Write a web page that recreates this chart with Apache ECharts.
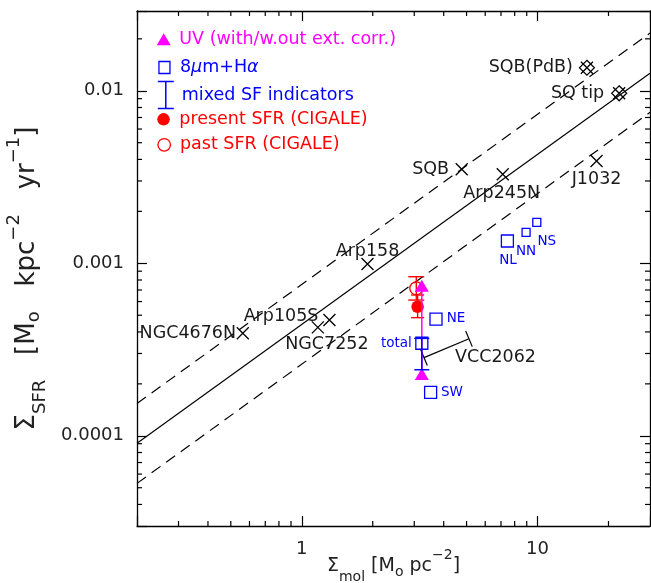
<!DOCTYPE html>
<html><head><meta charset="utf-8">
<script src="https://cdn.jsdelivr.net/npm/echarts@6/dist/echarts.min.js"></script>
<style>html,body{margin:0;padding:0;background:#fff}#c{width:651px;height:583px}</style>
</head><body><div id="c"></div>
<script>
// ---------------- data ----------------
const galaxyNames = ['SQB(PdB)', 'SQ tip', 'SQB', 'Arp245N', 'J1032', 'Arp158', 'NGC4676N', 'Arp105S', 'NGC7252'];
const galaxyMol   = [16.2, 22.2, 4.77, 7.12, 17.8, 1.90, 0.562, 1.31, 1.17];
const galaxySFR   = [0.0136, 0.00967, 0.00351, 0.00328, 0.00392, 0.00099, 0.000393, 0.000469, 0.000425];

const pdbMol = [16.2, 22.2];
const pdbSFR = [0.0136, 0.00967];

const irNames = ['NL', 'NN', 'NS', 'NE', 'total', 'SW'];
const irMol   = [7.45, 8.94, 9.93, 3.71, 3.23, 3.52];
const irSFR   = [0.001346, 0.001512, 0.001728, 0.000475, 0.000344, 0.0001786];

const uvMol = [3.23, 3.23];
const uvSFR = [0.000741, 0.000228];

const mixedMol  = [3.23];
const mixedLow  = [0.0002415];
const mixedHigh = [0.000367];

const presentMol  = [3.10];
const presentSFR  = [0.00056];
const presentLow  = [0.000484];
const presentHigh = [0.000655];

const pastMol  = [3.06];
const pastSFR  = [0.000716];
const pastLow  = [0.000612];
const pastHigh = [0.000836];

const relationMol = [0.2, 30];
const relationSFR = [9.06e-5, 0.01265];
const upperSFR    = [1.54e-4, 0.0216];
const lowerSFR    = [5.3e-5, 0.0075];

const bracketNames = ['VCC2062'];
const bracketFrom  = [[3.30, 0.000284]];
const bracketTo    = [[5.12, 0.000365]];

const xTickValues = [1, 10];
const xTickLabels = ['1', '10'];
const yTickValues = [0.0001, 0.001, 0.01];
const yTickLabels = ['0.0001', '0.001', '0.01'];
const xMinorTicks = [0.3, 0.4, 0.5, 0.6, 0.7, 0.8, 0.9, 2, 3, 4, 5, 6, 7, 8, 9, 20];
const yMinorTicks = [4e-5, 5e-5, 6e-5, 7e-5, 8e-5, 9e-5,
                     2e-4, 3e-4, 4e-4, 5e-4, 6e-4, 7e-4, 8e-4, 9e-4,
                     2e-3, 3e-3, 4e-3, 5e-3, 6e-3, 7e-3, 8e-3, 9e-3, 0.02];

const seriesNames = {
  uv: 'UV (with/w.out ext. corr.)',
  ir: '8μm+Hα',
  mixed: 'mixed SF indicators',
  present: 'present SFR (CIGALE)',
  past: 'past SFR (CIGALE)'
};

// ---------------- styling ----------------
const FONT = 'DejaVu Sans';
const X_MIN = 0.2, X_MAX = 30, Y_MIN = 3e-5, Y_MAX = 0.029;
const BLACK = '#000', BLUE = '#0000ff', RED = '#ff0000', MAG = '#ff00ff', TXT = '#1a1a1a';

const blackLabelPos = {
  'SQB(PdB)': ['right', -14, 0],
  'SQ tip':   ['right', -15, 0],
  'SQB':      ['right', -12.7, 0],
  'Arp245N':  ['center', -1, 19],
  'J1032':    ['center', 0, 19],
  'Arp158':   ['center', 0, -13],
  'NGC4676N': ['right', -6.7, 0],
  'Arp105S':  ['right', -11, -4],
  'NGC7252':  ['center', 9, 16.7]
};
const blueLabelPos = {
  'NE':    ['left', 10.7, -1],
  'total': ['right', -10, 0],
  'SW':    ['left', 10.3, 0],
  'NL':    ['center', 0.7, 19],
  'NN':    ['center', 0, 19.4],
  'NS':    ['center', 10, 19.4]
};
const smallSquares = ['NN', 'NS'];

function tickLabel(v, vals, labs) {
  for (let i = 0; i < vals.length; i++) if (Math.abs(v / vals[i] - 1) < 1e-6) return labs[i];
  return '';
}
function pairs(xs, ys) { return xs.map((x, i) => [x, ys[i]]); }

const tickStyle = () => ({ stroke: BLACK, lineWidth: 1.2 });

function axisCommon() {
  return {
    type: 'log', logBase: 10,
    axisLine: { show: true, onZero: false, lineStyle: { color: BLACK, width: 1.3 } },
    axisTick: { show: true, inside: true, length: 10, lineStyle: { color: BLACK, width: 1.2 } },
    splitLine: { show: false },
    minorTick: { show: false },
    nameMoveOverlap: false
  };
}

const chart = echarts.init(document.getElementById('c'), null, { renderer: 'canvas' });

const xName = '{m|Σ}{s|mol}{m| [M}{so|o}{m| pc}{p|−2}{m|]}';
const yName = '{m|Σ}{s|SFR}{m|   [M}{so|o}{m|   kpc}{p|−2}{m|   yr}{p|−1}{m|]}';

const option = {
  animation: false,
  backgroundColor: '#fff',
  grid: { left: 137, right: 1, top: 11, bottom: 57, outerBoundsMode: 'none', containLabel: false },
  xAxis: [
    Object.assign(axisCommon(), {
      position: 'bottom', min: X_MIN, max: X_MAX,
      axisLabel: { show: true, margin: 14, fontFamily: FONT, fontSize: 18, color: '#222',
        formatter: v => tickLabel(v, xTickValues, xTickLabels) },
      name: xName, nameLocation: 'middle', nameGap: 22,
      nameTextStyle: {
        fontFamily: FONT, fontSize: 19, color: '#222',
        rich: {
          m:  { fontFamily: FONT, fontSize: 19, lineHeight: 36, verticalAlign: 'middle', color: '#222' },
          s:  { fontFamily: FONT, fontSize: 14, verticalAlign: 'bottom', color: '#222' },
          so: { fontFamily: FONT, fontSize: 14, verticalAlign: 'bottom', padding: [0, 0, 5, 0], color: '#222' },
          p:  { fontFamily: FONT, fontSize: 14, verticalAlign: 'top', color: '#222' }
        }
      }
    }),
    Object.assign(axisCommon(), {
      position: 'top', min: X_MIN, max: X_MAX, axisLabel: { show: false }
    })
  ],
  yAxis: [
    Object.assign(axisCommon(), {
      position: 'left', min: Y_MIN, max: Y_MAX,
      axisLabel: { show: true, margin: 13, fontFamily: FONT, fontSize: 18, color: '#222',
        formatter: v => tickLabel(v, yTickValues, yTickLabels) },
      name: yName, nameLocation: 'middle', nameGap: 88,
      nameTextStyle: {
        fontFamily: FONT, fontSize: 26, color: '#222', padding: [0, 20, 0, 0],
        rich: {
          m:  { fontFamily: FONT, fontSize: 26, lineHeight: 44, verticalAlign: 'middle', color: '#222' },
          s:  { fontFamily: FONT, fontSize: 18, verticalAlign: 'bottom', color: '#222' },
          so: { fontFamily: FONT, fontSize: 18, verticalAlign: 'bottom', padding: [0, 0, 6, 0], color: '#222' },
          p:  { fontFamily: FONT, fontSize: 18, verticalAlign: 'top', color: '#222' }
        }
      }
    }),
    Object.assign(axisCommon(), {
      position: 'right', min: Y_MIN, max: Y_MAX, axisLabel: { show: false }
    })
  ],
  legend: [
    { data: [{ name: seriesNames.uv, icon: 'triangle', itemStyle: { color: MAG, borderWidth: 0, opacity: 1 } }],
      left: 156.7, top: 30.3, itemWidth: 14, itemHeight: 12, textColor: MAG, pad: 3.6 },
    { data: [{ name: seriesNames.ir, icon: 'rect', itemStyle: { color: 'rgba(0,0,0,0)', borderColor: BLUE, borderWidth: 1.3, opacity: 1 } }],
      left: 158.3, top: 58.5, itemWidth: 11, itemHeight: 12, textColor: BLUE, pad: 5, rich: true },
    { data: [{ name: seriesNames.mixed, icon: 'path://M0,0L16,0M8,0L8,27M0,27L16,27', itemStyle: { color: 'none', borderColor: BLUE, borderWidth: 1.5, opacity: 1 } }],
      left: 155.3, top: 79, itemWidth: 16, itemHeight: 27, textColor: BLUE, pad: 3 },
    { data: [{ name: seriesNames.present, icon: 'circle', itemStyle: { color: RED, borderWidth: 0, opacity: 1 } }],
      left: 157.3, top: 110.3, itemWidth: 12.5, itemHeight: 12.5, textColor: RED, pad: 4.5 },
    { data: [{ name: seriesNames.past, icon: 'circle', itemStyle: { color: 'rgba(0,0,0,0)', borderColor: RED, borderWidth: 1.3, opacity: 1 } }],
      left: 157.3, top: 135.8, itemWidth: 12.5, itemHeight: 12.5, textColor: RED, pad: 4.5 }
  ].map(l => {
    const ts = { fontFamily: FONT, fontSize: 17.5, color: l.textColor, padding: [0, 0, 0, l.pad] };
    const out = { data: l.data, left: l.left, top: l.top, itemWidth: l.itemWidth, itemHeight: l.itemHeight,
      orient: 'vertical', padding: 0, itemGap: 0, selectedMode: false, textStyle: ts };
    if (l.rich) {
      ts.rich = { i: { fontFamily: FONT, fontSize: 17.5, fontStyle: 'italic', color: l.textColor } };
      out.formatter = n => n.replace('μ', '{i|μ}').replace('α', '{i|α}');
    }
    return out;
  }),
  series: [
    { type: 'line', name: 'relation', data: pairs(relationMol, relationSFR), symbol: 'none', silent: true, z: 1,
      lineStyle: { color: BLACK, width: 1.2 } },
    { type: 'line', name: 'relation+', data: pairs(relationMol, upperSFR), symbol: 'none', silent: true, z: 1,
      lineStyle: { color: BLACK, width: 1.2, type: [11, 7] } },
    { type: 'line', name: 'relation-', data: pairs(relationMol, lowerSFR), symbol: 'none', silent: true, z: 1,
      lineStyle: { color: BLACK, width: 1.2, type: [11, 7] } },
    { type: 'custom', name: 'xminor', silent: true, z: 1,
      data: xMinorTicks.map(v => [v, Y_MIN]),
      renderItem: (params, api) => {
        const v = api.value(0);
        const b = api.coord([v, Y_MIN]), t = api.coord([v, Y_MAX]);
        return { type: 'group', children: [
          { type: 'line', shape: { x1: b[0], y1: b[1], x2: b[0], y2: b[1] - 5 }, style: tickStyle() },
          { type: 'line', shape: { x1: t[0], y1: t[1], x2: t[0], y2: t[1] + 5 }, style: tickStyle() }
        ] };
      } },
    { type: 'custom', name: 'yminor', silent: true, z: 1,
      data: yMinorTicks.map(v => [X_MIN, v]),
      renderItem: (params, api) => {
        const v = api.value(1);
        const l = api.coord([X_MIN, v]), r = api.coord([X_MAX, v]);
        return { type: 'group', children: [
          { type: 'line', shape: { x1: l[0], y1: l[1], x2: l[0] + 5, y2: l[1] }, style: tickStyle() },
          { type: 'line', shape: { x1: r[0], y1: r[1], x2: r[0] - 5, y2: r[1] }, style: tickStyle() }
        ] };
      } },
    { type: 'scatter', name: 'galaxies', z: 2,
      symbol: 'path://M0,0L10,10M10,0L0,10', symbolSize: 12,
      itemStyle: { color: 'rgba(0,0,0,0)', borderColor: BLACK, borderWidth: 1.3, opacity: 1 },
      label: { show: true, position: 'inside', formatter: '{b}', fontFamily: FONT, fontSize: 17.5, color: TXT, verticalAlign: 'middle' },
      data: galaxyNames.map((n, i) => {
        const p = blackLabelPos[n];
        return { name: n, value: [galaxyMol[i], galaxySFR[i]], label: { align: p[0], offset: [p[1], p[2]] } };
      }) },
    { type: 'scatter', name: 'PdB', z: 2, symbol: 'diamond', symbolSize: 15,
      itemStyle: { color: 'rgba(0,0,0,0)', borderColor: BLACK, borderWidth: 1.2, opacity: 1 },
      data: pairs(pdbMol, pdbSFR) },
    { type: 'custom', name: 'CIGALE errors', z: 3,
      data: pairs(presentMol, presentLow).map((d, i) => [d[0], d[1], presentHigh[i]])
        .concat(pairs(pastMol, pastLow).map((d, i) => [d[0], d[1], pastHigh[i]])),
      renderItem: (params, api) => {
        const x = api.value(0);
        const lo = api.coord([x, api.value(1)]), hi = api.coord([x, api.value(2)]);
        const w = params.dataIndex === 1 ? 8 : 6.5;
        const st = () => ({ stroke: RED, lineWidth: 1.4 });
        return { type: 'group', children: [
          { type: 'line', shape: { x1: lo[0], y1: lo[1], x2: hi[0], y2: hi[1] }, style: st() },
          { type: 'line', shape: { x1: lo[0] - w, y1: lo[1], x2: lo[0] + w, y2: lo[1] }, style: st() },
          { type: 'line', shape: { x1: hi[0] - w, y1: hi[1], x2: hi[0] + w, y2: hi[1] }, style: st() }
        ] };
      } },
    { type: 'scatter', name: seriesNames.past, z: 3, symbol: 'circle', symbolSize: 13,
      itemStyle: { color: 'rgba(0,0,0,0)', borderColor: RED, borderWidth: 1.3, opacity: 1 },
      data: pairs(pastMol, pastSFR) },
    { type: 'scatter', name: seriesNames.present, z: 3, symbol: 'circle', symbolSize: 12.5,
      itemStyle: { color: RED, opacity: 1 },
      data: pairs(presentMol, presentSFR) },
    { type: 'line', name: seriesNames.uv, z: 4, symbol: 'triangle', symbolSize: [14, 12], showSymbol: true,
      itemStyle: { color: MAG, opacity: 1 }, lineStyle: { color: MAG, width: 1.5 },
      data: pairs(uvMol, uvSFR) },
    { type: 'custom', name: seriesNames.mixed, z: 5,
      itemStyle: { color: BLUE },
      data: mixedMol.map((x, i) => [x, mixedLow[i], mixedHigh[i]]),
      renderItem: (params, api) => {
        const x = api.value(0);
        const lo = api.coord([x, api.value(1)]), hi = api.coord([x, api.value(2)]);
        const w = 7.5, st = () => ({ stroke: BLUE, lineWidth: 1.5 });
        return { type: 'group', children: [
          { type: 'line', shape: { x1: lo[0], y1: lo[1], x2: hi[0], y2: hi[1] }, style: st() },
          { type: 'line', shape: { x1: lo[0] - w, y1: lo[1], x2: lo[0] + w, y2: lo[1] }, style: st() },
          { type: 'line', shape: { x1: hi[0] - w, y1: hi[1], x2: hi[0] + w, y2: hi[1] }, style: st() }
        ] };
      } },
    { type: 'scatter', name: seriesNames.ir, z: 5, symbol: 'rect',
      symbolSize: (v, p) => smallSquares.indexOf(p.name) >= 0 ? 8 : 12,
      itemStyle: { color: 'rgba(0,0,0,0)', borderColor: BLUE, borderWidth: 1.3, opacity: 1 },
      label: { show: true, position: 'inside', formatter: '{b}', fontFamily: FONT, fontSize: 13.5, color: BLUE, verticalAlign: 'middle' },
      data: irNames.map((n, i) => {
        const p = blueLabelPos[n];
        return { name: n, value: [irMol[i], irSFR[i]], label: { align: p[0], offset: [p[1], p[2]] } };
      }) },
    { type: 'custom', name: 'bracket', z: 2, silent: true,
      data: bracketNames.map((n, i) => [bracketFrom[i][0], bracketFrom[i][1], bracketTo[i][0], bracketTo[i][1]]),
      renderItem: (params, api) => {
        const p1 = api.coord([api.value(0), api.value(1)]);
        const p2 = api.coord([api.value(2), api.value(3)]);
        const dx = p2[0] - p1[0], dy = p2[1] - p1[1], L = Math.hypot(dx, dy);
        const nx = -dy / L * 8.5, ny = dx / L * 8.5;
        const st = () => ({ stroke: BLACK, lineWidth: 1.2 });
        return { type: 'group', children: [
          { type: 'line', shape: { x1: p1[0], y1: p1[1], x2: p2[0], y2: p2[1] }, style: st() },
          { type: 'line', shape: { x1: p1[0] - nx, y1: p1[1] - ny, x2: p1[0] + nx, y2: p1[1] + ny }, style: st() },
          { type: 'line', shape: { x1: p2[0] - nx, y1: p2[1] - ny, x2: p2[0] + nx, y2: p2[1] + ny }, style: st() },
          { type: 'text', x: p2[0] + 26.5, y: p2[1] + 19,
            style: { text: bracketNames[params.dataIndex], align: 'center', verticalAlign: 'middle',
              fontFamily: FONT, fontSize: 17.5, fill: TXT } }
        ] };
      } }
  ]
};
chart.setOption(option);
</script>
</body></html>
